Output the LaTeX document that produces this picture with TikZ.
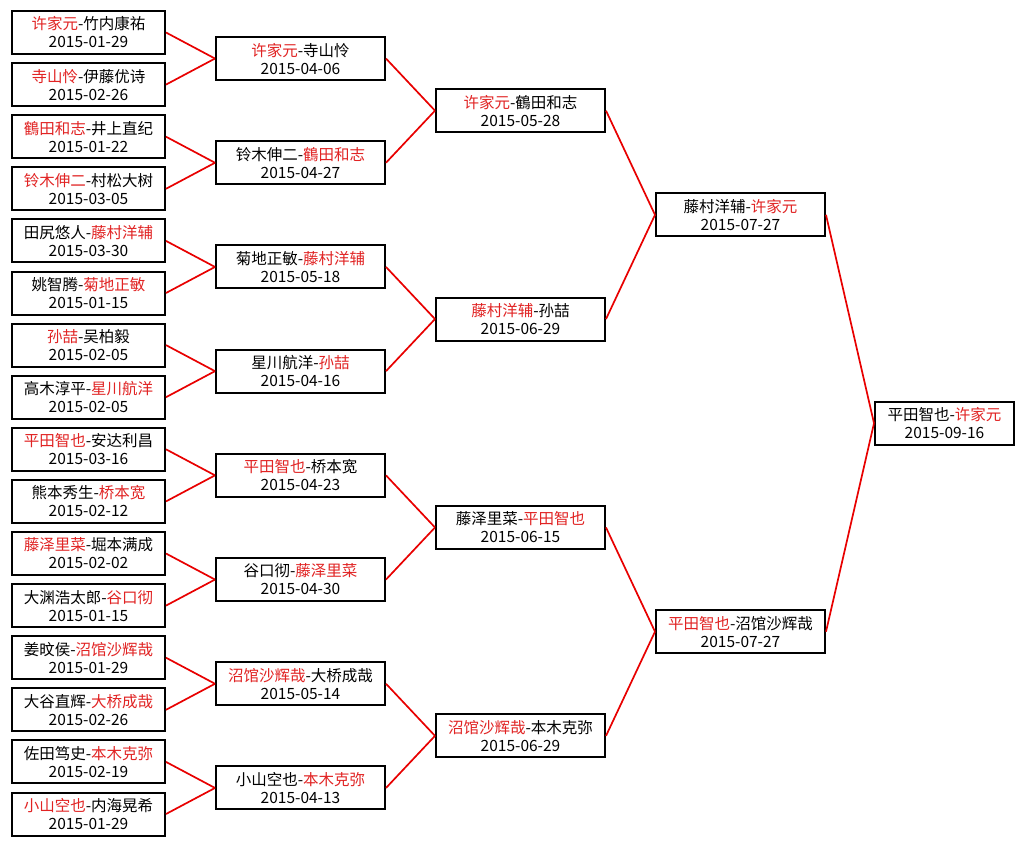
\documentclass[tikz,border=0pt]{standalone}
\usepackage{fontspec}
\newfontfamily\cjk{Noto Sans CJK SC}
\definecolor{winred}{RGB}{225,35,35}
\definecolor{linkred}{RGB}{232,0,0}
\newcommand{\win}[1]{\textcolor{winred}{#1}}
\tikzset{
    game/.style={draw=black, line width=2pt, fill=white, align=center,
        inner sep=0pt, minimum height=43pt,
        font=\cjk\fontsize{15.5}{18}\selectfont},
    first/.style={game, minimum width=153pt},
    later/.style={game, minimum width=169pt},
    final/.style={game, minimum width=139pt},
    link/.style={linkred, line width=1.7pt}
}
\begin{document}
\begin{tikzpicture}[x=1pt,y=-1pt]

    % Page
    \fill[white] (0,0) rectangle (1024,845);
    \useasboundingbox (0,0) rectangle (1024,845);

    % First round
    \node[first] (a1)  at (88.5,32.5)  {\win{许家元}-竹内康祐\\2015-01-29};
    \node[first] (a2)  at (88.5,84.6)  {\win{寺山怜}-伊藤优诗\\2015-02-26};
    \node[first] (a3)  at (88.5,136.7) {\win{鶴田和志}-井上直纪\\2015-01-22};
    \node[first] (a4)  at (88.5,188.8) {\win{铃木伸二}-村松大树\\2015-03-05};
    \node[first] (a5)  at (88.5,240.9) {田尻悠人-\win{藤村洋辅}\\2015-03-30};
    \node[first] (a6)  at (88.5,293.0) {姚智腾-\win{菊地正敏}\\2015-01-15};
    \node[first] (a7)  at (88.5,345.1) {\win{孙喆}-吴柏毅\\2015-02-05};
    \node[first] (a8)  at (88.5,397.2) {高木淳平-\win{星川航洋}\\2015-02-05};
    \node[first] (a9)  at (88.5,449.3) {\win{平田智也}-安达利昌\\2015-03-16};
    \node[first] (a10) at (88.5,501.4) {熊本秀生-\win{桥本宽}\\2015-02-12};
    \node[first] (a11) at (88.5,553.5) {\win{藤泽里菜}-堀本满成\\2015-02-02};
    \node[first] (a12) at (88.5,605.6) {大渊浩太郎-\win{谷口彻}\\2015-01-15};
    \node[first] (a13) at (88.5,657.7) {姜旼侯-\win{沼馆沙辉哉}\\2015-01-29};
    \node[first] (a14) at (88.5,709.8) {大谷直辉-\win{大桥成哉}\\2015-02-26};
    \node[first] (a15) at (88.5,761.9) {佐田笃史-\win{本木克弥}\\2015-02-19};
    \node[first] (a16) at (88.5,814.0) {\win{小山空也}-内海晃希\\2015-01-29};

    % Second round
    \node[later] (b1) at (300.5,58.55)  {\win{许家元}-寺山怜\\2015-04-06};
    \node[later] (b2) at (300.5,162.75) {铃木伸二-\win{鶴田和志}\\2015-04-27};
    \node[later] (b3) at (300.5,266.95) {菊地正敏-\win{藤村洋辅}\\2015-05-18};
    \node[later] (b4) at (300.5,371.15) {星川航洋-\win{孙喆}\\2015-04-16};
    \node[later] (b5) at (300.5,475.35) {\win{平田智也}-桥本宽\\2015-04-23};
    \node[later] (b6) at (300.5,579.55) {谷口彻-\win{藤泽里菜}\\2015-04-30};
    \node[later] (b7) at (300.5,683.75) {\win{沼馆沙辉哉}-大桥成哉\\2015-05-14};
    \node[later] (b8) at (300.5,787.95) {小山空也-\win{本木克弥}\\2015-04-13};

    % Quarter finals
    \node[later] (c1) at (520.5,110.65) {\win{许家元}-鶴田和志\\2015-05-28};
    \node[later] (c2) at (520.5,319.05) {\win{藤村洋辅}-孙喆\\2015-06-29};
    \node[later] (c3) at (520.5,527.45) {藤泽里菜-\win{平田智也}\\2015-06-15};
    \node[later] (c4) at (520.5,735.85) {\win{沼馆沙辉哉}-本木克弥\\2015-06-29};

    % Semi finals
    \node[later] (d1) at (740.5,214.85) {藤村洋辅-\win{许家元}\\2015-07-27};
    \node[later] (d2) at (740.5,631.65) {\win{平田智也}-沼馆沙辉哉\\2015-07-27};

    % Final
    \node[final] (e1) at (944.5,423.25) {平田智也-\win{许家元}\\2015-09-16};

    % Links
    \foreach \from/\to in {a1/b1,a2/b1,a3/b2,a4/b2,a5/b3,a6/b3,a7/b4,a8/b4,
                           a9/b5,a10/b5,a11/b6,a12/b6,a13/b7,a14/b7,a15/b8,a16/b8,
                           b1/c1,b2/c1,b3/c2,b4/c2,b5/c3,b6/c3,b7/c4,b8/c4,
                           c1/d1,c2/d1,c3/d2,c4/d2,d1/e1,d2/e1} {
        \draw[link] (\from.east) -- (\to.west);
    }
\end{tikzpicture}
\end{document}
